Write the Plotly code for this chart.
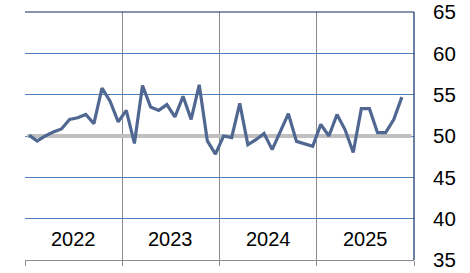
import plotly.graph_objects as go

years = ["2022", "2023", "2024", "2025"]
values_2022 = [50.1, 49.4, 50.0, 50.5, 50.85, 52.0, 52.2, 52.6, 51.5, 55.8, 54.2, 51.7]
values_2023 = [53.1, 49.1, 56.1, 53.5, 53.1, 53.8, 52.3, 54.8, 52.0, 56.2, 49.4, 47.8]
values_2024 = [50.0, 49.8, 53.95, 48.95, 49.55, 50.3, 48.35, 50.5, 52.7, 49.35, 49.1, 48.75]
values_2025 = [51.4, 50.0, 52.6, 50.75, 48.0, 53.3, 53.3, 50.4, 50.4, 52.0, 54.7]
reference_level = 50
y_ticks = [35, 40, 45, 50, 55, 60, 65]

values = values_2022 + values_2023 + values_2024 + values_2025
x = [i + 0.5 for i in range(len(values))]

fig = go.Figure()
fig.add_trace(go.Scatter(x=[0.25, 47.7], y=[reference_level, reference_level], mode="lines",
                         line=dict(color="#c0c0c0", width=4), hoverinfo="skip",
                         showlegend=False))
fig.add_trace(go.Scatter(x=x, y=values, mode="lines",
                         line=dict(color="#506891", width=3.2), hoverinfo="skip",
                         showlegend=False))

shapes = [
    dict(type="line", xref="paper", yref="paper", x0=0, x1=1, y0=1, y1=1,
         line=dict(color="#0f2b66", width=1.2)),
    dict(type="line", xref="paper", yref="paper", x0=1, x1=1, y0=0, y1=1,
         line=dict(color="#0f2b66", width=1.2)),
]

annotations = [
    dict(x=12 * i + 6, y=37.6, xref="x", yref="y", text=yr, showarrow=False,
         font=dict(family="Liberation Sans, Arial", size=20, color="black"),
         xanchor="center", yanchor="middle")
    for i, yr in enumerate(years)
]

fig.update_layout(
    width=470, height=273,
    margin=dict(l=25, r=56, t=12, b=13),
    paper_bgcolor="white", plot_bgcolor="white",
    shapes=shapes, annotations=annotations,
    xaxis=dict(range=[0, 48], tickvals=[0, 12, 24, 36, 48], showticklabels=False,
               showgrid=True, gridcolor="#8c8c8c", gridwidth=1.2,
               ticks="outside", ticklen=5, tickcolor="#8c8c8c", tickwidth=1.2,
               showline=True, linecolor="#8c8c8c", linewidth=1.2,
               zeroline=False, fixedrange=True, automargin=False),
    yaxis=dict(range=[35, 65], tickvals=y_ticks, side="right",
               showgrid=True, gridcolor="#4f7fbc", gridwidth=1.2,
               ticks="", ticklabelstandoff=18,
               tickfont=dict(family="Liberation Sans, Arial", size=20.5, color="black"),
               zeroline=False, showline=False, fixedrange=True, automargin=False),
)

fig.write_html("out.html")
